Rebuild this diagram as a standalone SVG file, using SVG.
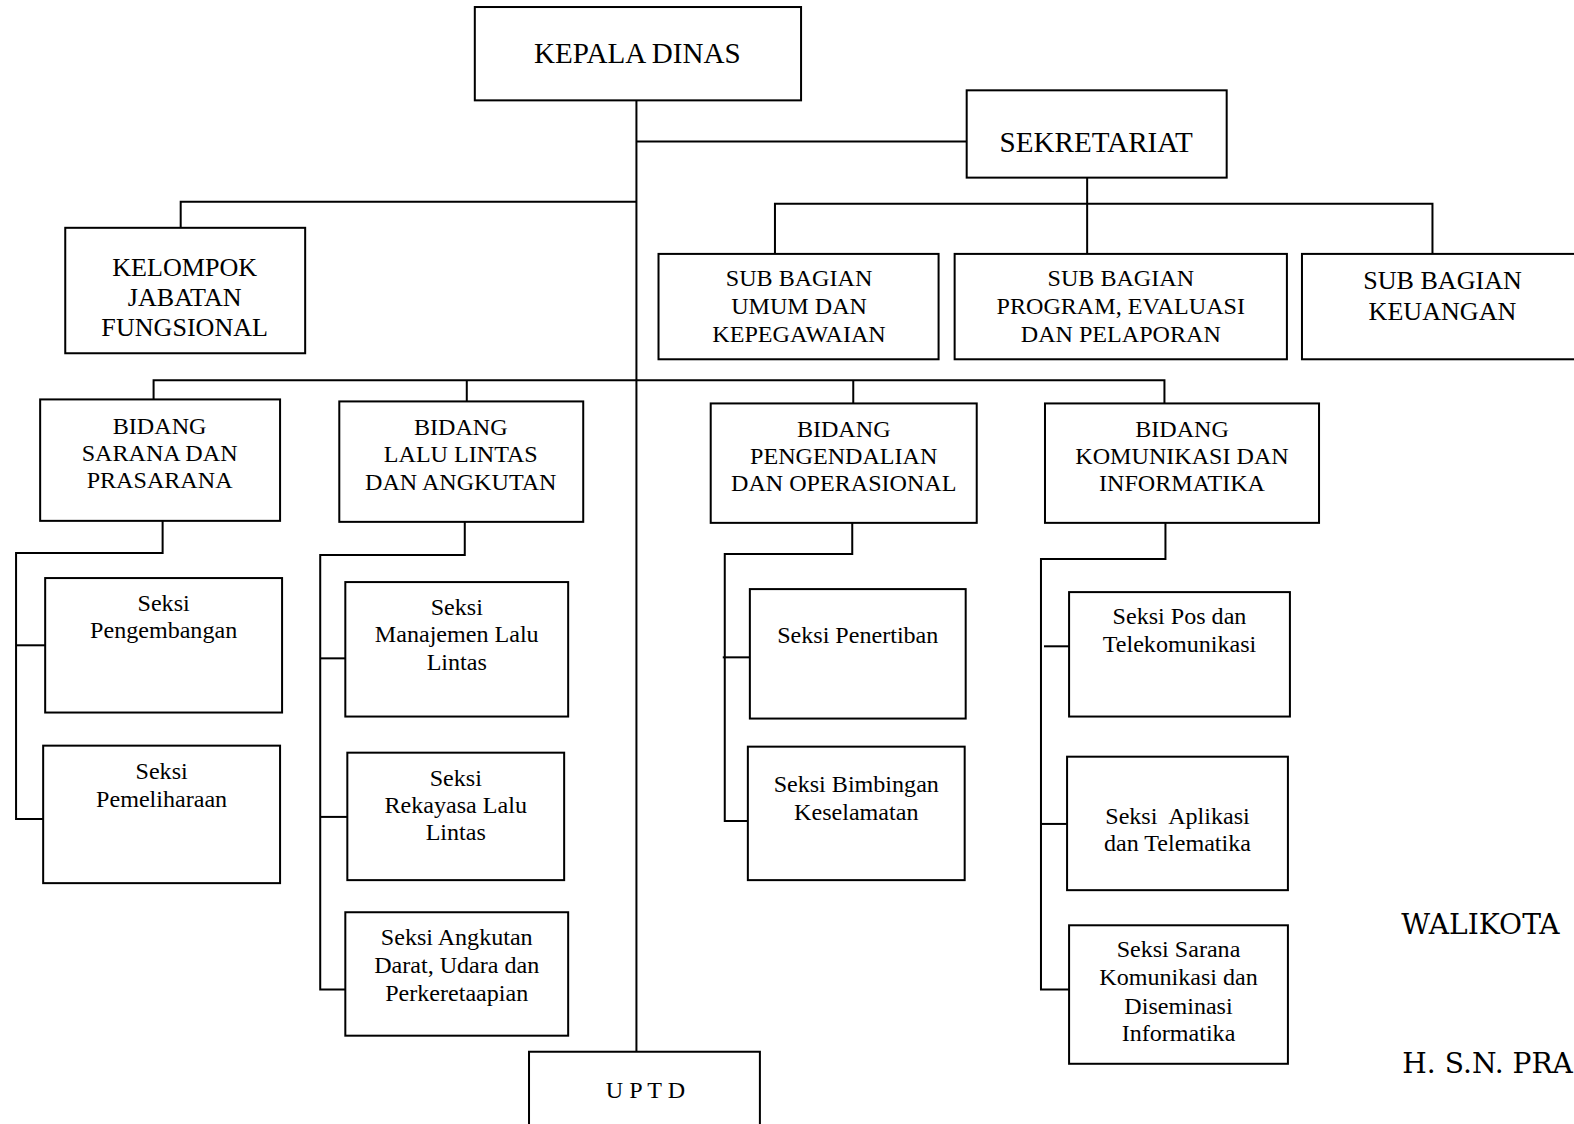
<svg xmlns="http://www.w3.org/2000/svg" width="1574" height="1124" viewBox="0 0 1574 1124">
<style>
.box{fill:#fff;stroke:#000;stroke-width:2}
.c{fill:none;stroke:#000;stroke-width:2}
text{font-family:"Liberation Serif","Times New Roman",serif;font-size:24px;text-anchor:middle;fill:#000}
.big{font-size:29px}
.mid{font-size:26px}
.sig{font-family:"DejaVu Serif",serif;font-size:28px;text-anchor:start}
</style>
<rect width="1574" height="1124" fill="#fff"/>
<g transform="scale(1.00383 1.00357)">
<g id="connectors">
<path class="c" d="M634,100 V1048"/>
<path class="c" d="M634,141 H963"/>
<path class="c" d="M180,227 V201 H634"/>
<path class="c" d="M1083,177 V253"/>
<path class="c" d="M772,253 V203 H1427 V253"/>
<path class="c" d="M153,398 V379 H1160 V402"/>
<path class="c" d="M465,379 V400"/>
<path class="c" d="M850,379 V402"/>
<path class="c" d="M162,519 V551 H16 V816 H43"/>
<path class="c" d="M16,643 H45"/>
<path class="c" d="M463,520 V553 H319 V986 H344"/>
<path class="c" d="M319,656 H344"/>
<path class="c" d="M319,814 H346"/>
<path class="c" d="M849,521 V552 H722 V818 H745"/>
<path class="c" d="M720,655 H747"/>
<path class="c" d="M1161,521 V557 H1037 V986 H1065"/>
<path class="c" d="M1040,644 H1065"/>
<path class="c" d="M1037,821 H1063"/>
</g>
<g id="kepala"><rect class="box" x="473" y="7" width="325" height="93"/><text class="big" x="635" y="63">KEPALA DINAS</text></g>
<g id="sekretariat"><rect class="box" x="963" y="90" width="259" height="87"/><text class="big" x="1092" y="151">SEKRETARIAT</text></g>
<g id="kelompok"><rect class="box" x="65" y="227" width="239" height="125"/><text class="mid" x="184" y="275">KELOMPOK</text><text class="mid" x="184" y="305">JABATAN</text><text class="mid" x="184" y="335">FUNGSIONAL</text></g>
<g id="subumum"><rect class="box" x="656" y="253" width="279" height="105"/><text x="796" y="285">SUB BAGIAN</text><text x="796" y="313">UMUM DAN</text><text x="796" y="341">KEPEGAWAIAN</text></g>
<g id="subprogram"><rect class="box" x="951" y="253" width="331" height="105"/><text x="1116.5" y="285">SUB BAGIAN</text><text x="1116.5" y="313">PROGRAM, EVALUASI</text><text x="1116.5" y="341">DAN PELAPORAN</text></g>
<g id="subkeuangan"><rect class="box" x="1297" y="253" width="300" height="105"/><text class="mid" x="1437" y="288">SUB BAGIAN</text><text class="mid" x="1437" y="319">KEUANGAN</text></g>
<g id="bidsarana"><rect class="box" x="40" y="398" width="239" height="121"/><text x="159" y="432">BIDANG</text><text x="159" y="459">SARANA DAN</text><text x="159" y="486">PRASARANA</text></g>
<g id="bidlalu"><rect class="box" x="338" y="400" width="243" height="120"/><text x="459" y="433">BIDANG</text><text x="459" y="460">LALU LINTAS</text><text x="459" y="488">DAN ANGKUTAN</text></g>
<g id="bidpengendalian"><rect class="box" x="708" y="402" width="265" height="119"/><text x="840.5" y="435">BIDANG</text><text x="840.5" y="462">PENGENDALIAN</text><text x="840.5" y="489">DAN OPERASIONAL</text></g>
<g id="bidkomunikasi"><rect class="box" x="1041" y="402" width="273" height="119"/><text x="1177.5" y="435">BIDANG</text><text x="1177.5" y="462">KOMUNIKASI DAN</text><text x="1177.5" y="489">INFORMATIKA</text></g>
<g id="pengembangan"><rect class="box" x="45" y="576" width="236" height="134"/><text x="163" y="609">Seksi</text><text x="163" y="636">Pengembangan</text></g>
<g id="pemeliharaan"><rect class="box" x="43" y="743" width="236" height="137"/><text x="161" y="776">Seksi</text><text x="161" y="804">Pemeliharaan</text></g>
<g id="manajemen"><rect class="box" x="344" y="580" width="222" height="134"/><text x="455" y="613">Seksi</text><text x="455" y="640">Manajemen Lalu</text><text x="455" y="668">Lintas</text></g>
<g id="rekayasa"><rect class="box" x="346" y="750" width="216" height="127"/><text x="454" y="783">Seksi</text><text x="454" y="810">Rekayasa Lalu</text><text x="454" y="837">Lintas</text></g>
<g id="angkutan"><rect class="box" x="344" y="909" width="222" height="123"/><text x="455" y="942">Seksi Angkutan</text><text x="455" y="970">Darat, Udara dan</text><text x="455" y="997">Perkeretaapian</text></g>
<g id="penertiban"><rect class="box" x="747" y="587" width="215" height="129"/><text x="854.5" y="641">Seksi Penertiban</text></g>
<g id="bimbingan"><rect class="box" x="745" y="744" width="216" height="133"/><text x="853" y="789">Seksi Bimbingan</text><text x="853" y="817">Keselamatan</text></g>
<g id="pos"><rect class="box" x="1065" y="590" width="220" height="124"/><text x="1175" y="622">Seksi Pos dan</text><text x="1175" y="650">Telekomunikasi</text></g>
<g id="aplikasi"><rect class="box" x="1063" y="754" width="220" height="133"/><text x="1173" y="821" xml:space="preserve">Seksi  Aplikasi</text><text x="1173" y="848">dan Telematika</text></g>
<g id="saranakom"><rect class="box" x="1065" y="922" width="218" height="138"/><text x="1174" y="954">Seksi Sarana</text><text x="1174" y="982">Komunikasi dan</text><text x="1174" y="1010">Diseminasi</text><text x="1174" y="1037">Informatika</text></g>
<g id="uptd"><rect class="box" x="527" y="1048" width="230" height="100"/><text x="643" y="1094" xml:space="preserve">U P T D</text></g>
<g id="signature"><text class="sig" x="1396" y="931">WALIKOTA</text><text class="sig" x="1397" y="1069">H. S.N. PRA</text></g>
</g>
</svg>
